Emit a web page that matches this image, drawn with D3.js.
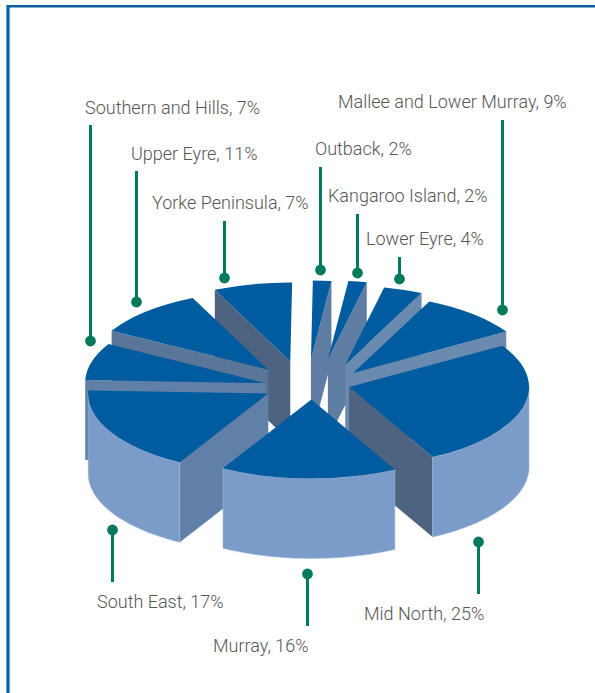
<!DOCTYPE html>
<html>
<head>
<meta charset="utf-8">
<script src="https://cdn.jsdelivr.net/npm/d3@7"></script>
<style>
  html, body { margin: 0; padding: 0; background: #fff; overflow: hidden; }
  svg { display: block; }
  text { font-family: Roboto, "Liberation Sans", sans-serif; font-weight: 300; font-size: 18px; fill: #555; }
</style>
</head>
<body>
<div id="chart"></div>
<script>
// clockwise from the top, same order as the slices in the picture
const regions = ["Outback", "Kangaroo Island", "Lower Eyre", "Mallee and Lower Murray", "Mid North",
    "Murray", "South East", "Southern and Hills", "Upper Eyre", "Yorke Peninsula"];
const percents = [2, 2, 4, 9, 25, 16, 17, 7, 11, 7];
// slice sizes as actually drawn in the picture (they differ a little from the printed numbers)
const drawnShares = [1.65, 1.65, 3.5, 9.25, 26.1, 15.85, 17.45, 7.6, 9.9, 7.05];

// how far each slice is pulled out of the pie
const explodeDist = [0.26, 0.28, 0.28, 0.26, 0.24, 0.247, 0.284, 0.247, 0.262, 0.256];
const explodeAngle = [2.4, 22, 46, 70, 112, 177, 233, 261, 300, 336];
const cutColors = ["#5f7da3", "#5f7da3", "#6a8ab0", "#6a8ab0", "#4e6380",
    "#4e6380", "#6180a8", "#6180a8", "#5b7598", "#4e6380"];

// label placement
const labelX = [315, 328, 366, 338, 364, 213, 97, 85, 131, 152];
const labelY = [155, 202, 245, 108, 620, 652, 608, 114, 160, 209];
const leaderX = [320.5, 357.5, 399.5, 502.5, 478.5, 307.5, 112.5, 90.5, 136.5, 224.5];
const leaderEnd = [167, 214, 257, 120, 594, 626, 582, 125, 171, 221];
const dotY = [270, 273, 279, 310, 542, 574, 530, 341, 302, 278];

const width = 595, height = 693;
const cx = 309, cy = 380, rx = 180, ry = 79, depth = 80;
const topColor = "#005b9f", wallColor = "#7b9cc9", green = "#007a5c";

const svg = d3.select("#chart").append("svg")
    .attr("width", width)
    .attr("height", height);

// frame, only top and left sides are in the picture
svg.append("rect").attr("x", 9).attr("y", 7).attr("width", 1.2).attr("height", height).attr("fill", "#6fb0e0");
svg.append("path")
    .attr("d", `M7.7,${height}V6.2H${width}`)
    .attr("fill", "none")
    .attr("stroke", "#0a5f9f")
    .attr("stroke-width", 2.6);

const pie = d3.pie().sort(null).value(d => d)
    .startAngle(0.6 * Math.PI / 180)
    .endAngle(360.6 * Math.PI / 180);

const arcs = pie(drawnShares);

const slices = arcs.map((a, i) => {
    const t = explodeAngle[i] * Math.PI / 180;
    return {
        i,
        start: a.startAngle,
        end: a.endAngle,
        ax: cx + explodeDist[i] * rx * Math.sin(t),
        ay: cy - explodeDist[i] * ry * Math.cos(t)
    };
});

// point on a slice's rim, angle in d3 pie convention
const rim = (s, ang, dy = 0) => [s.ax + rx * Math.sin(ang), s.ay - ry * Math.cos(ang) + dy];

const topArc = d3.arc().innerRadius(0).outerRadius(rx);
const line = d3.line();

// back to front
const ordered = slices.slice().sort((a, b) => a.ay - b.ay);

const groups = svg.selectAll("g.slice")
    .data(ordered)
    .enter()
    .append("g")
    .attr("class", "slice");

// cut face
groups.each(function(s) {
    let ang = null;
    if (s.end < Math.PI) ang = s.end;
    else if (s.start > Math.PI) ang = s.start;
    if (ang === null) return;
    const corner = rim(s, ang);
    d3.select(this).append("path")
        .attr("d", line([[s.ax, s.ay], corner, [corner[0], corner[1] + depth], [s.ax, s.ay + depth]]) + "Z")
        .attr("fill", cutColors[s.i]);
});

// outer wall, only the part that faces the viewer
groups.each(function(s) {
    const a0 = Math.max(s.start, Math.PI / 2);
    const a1 = Math.min(s.end, 1.5 * Math.PI);
    if (a1 <= a0) return;
    const steps = d3.range(0, 41).map(k => a0 + (a1 - a0) * k / 40);
    const upper = steps.map(a => rim(s, a));
    const lower = steps.slice().reverse().map(a => rim(s, a, depth));
    d3.select(this).append("path")
        .attr("d", line(upper.concat(lower)) + "Z")
        .attr("fill", wallColor)
        .attr("stroke", "#a9bfdc")
        .attr("stroke-width", 0.5);
});

// top face, a flattened d3 arc
groups.append("path")
    .attr("d", s => topArc({ startAngle: s.start, endAngle: s.end }))
    .attr("transform", s => `translate(${s.ax},${s.ay}) scale(1,${ry / rx})`)
    .attr("fill", topColor);

// leaders and labels
const labels = svg.selectAll("g.label")
    .data(regions)
    .enter()
    .append("g")
    .attr("class", "label");

labels.append("line")
    .attr("x1", (d, i) => leaderX[i])
    .attr("x2", (d, i) => leaderX[i])
    .attr("y1", (d, i) => leaderEnd[i])
    .attr("y2", (d, i) => dotY[i])
    .attr("stroke", green)
    .attr("stroke-width", 3);

labels.append("circle")
    .attr("cx", (d, i) => leaderX[i])
    .attr("cy", (d, i) => dotY[i])
    .attr("r", 5.4)
    .attr("fill", green);

labels.append("text")
    .attr("x", (d, i) => labelX[i])
    .attr("y", (d, i) => labelY[i])
    .text((d, i) => `${d}, ${percents[i]}%`);
</script>
</body>
</html>
